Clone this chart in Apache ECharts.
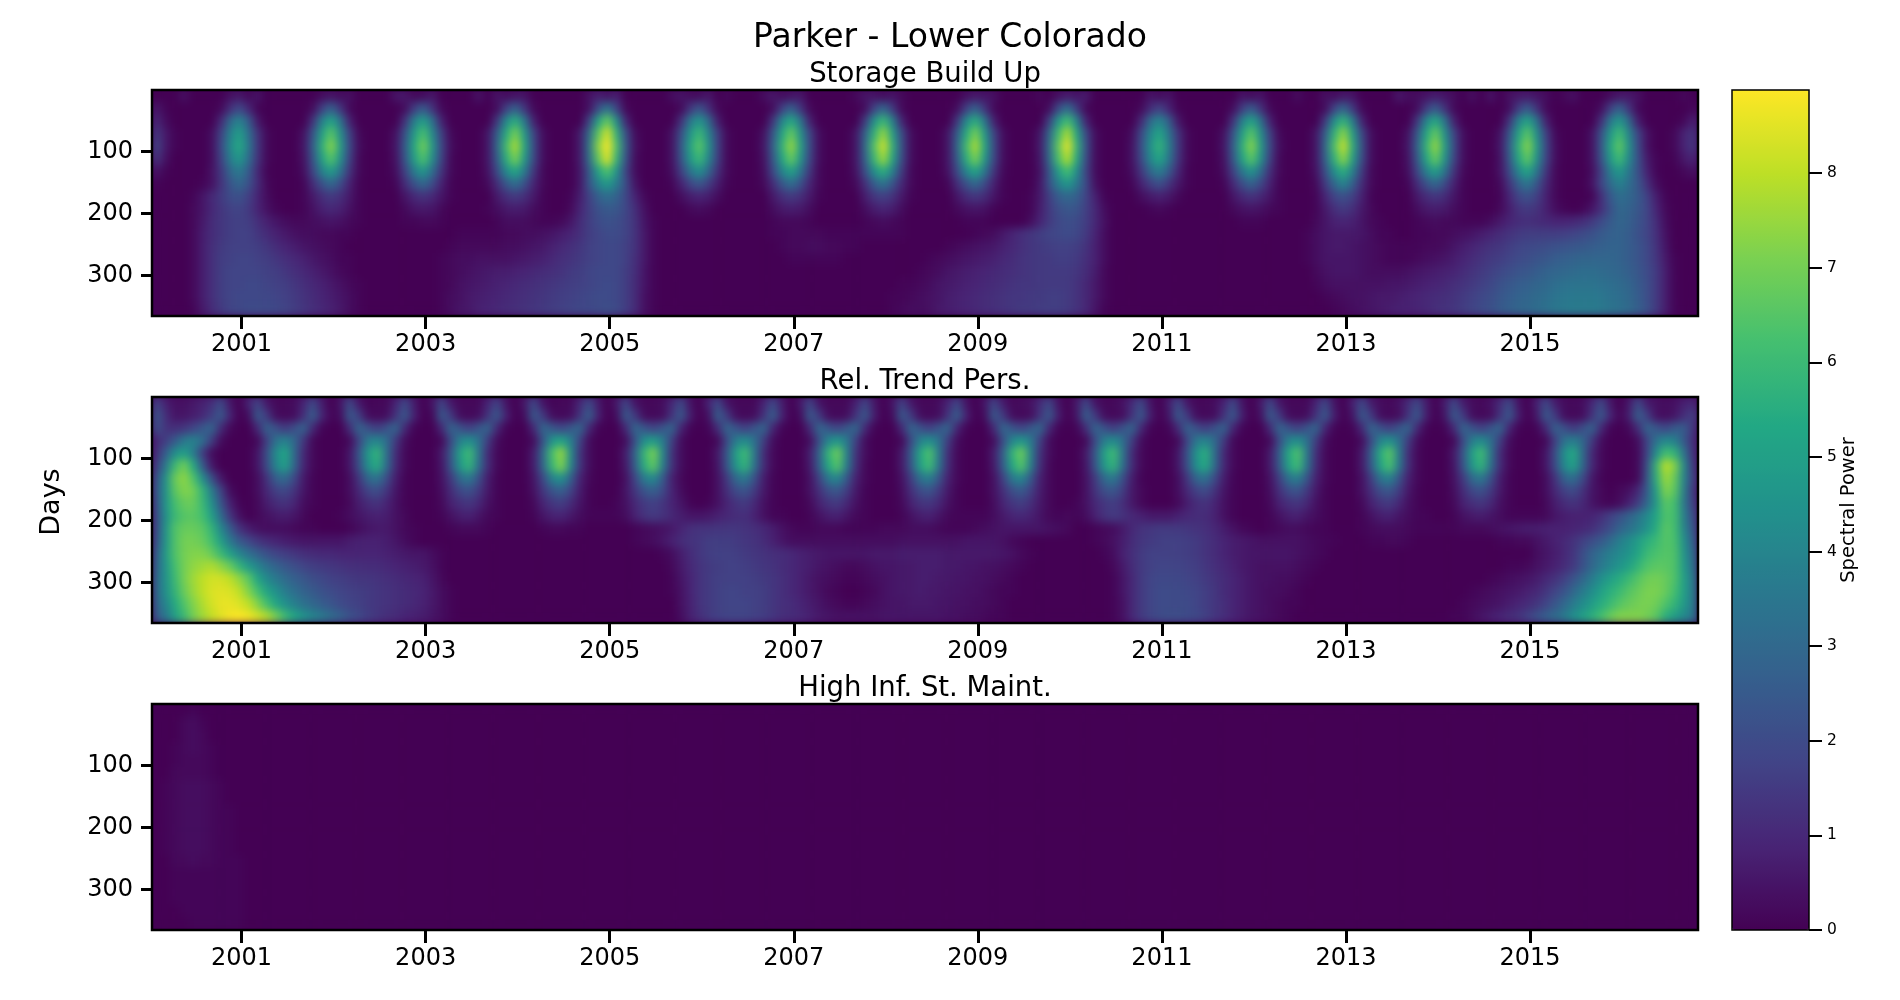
<!DOCTYPE html>
<html><head><meta charset="utf-8">
<style>html,body{margin:0;padding:0;background:#fff}#c{width:1900px;height:1000px}</style>
<script src="https://cdn.jsdelivr.net/npm/echarts@6/dist/echarts.min.js"></script>
</head><body><div id="c"></div>
<script>
// Spectral power, in tenths, one array per day row, 10 columns per year (last block 8).
const dayRows=[11,31,52,72,92,112,132,153,173,193,213,233,254,274,294,314,334,355];
const yearTicks=[2001,2003,2005,2007,2009,2011,2013,2015];
const dayTicks=[100,200,300];
const powerTicks=[0,1,2,3,4,5,6,7,8];

const s011=[0,0,0,4,0,0,0,0,4,6, 2,5,0,0,0,0,0,0,3,5, 3,4,0,0,0,0,5,6,2,3, 6,0,0,0,0,5,0,5,3,5, 5,0,0,0,0,0,0,4,8,5, 8,0,0,0,0,0,3,5,3,3, 6,0,2,0,0,0,3,6,3,5, 6,0,0,0,0,0,2,5,5,3, 5,2,0,0,0,0,0,0,4,6, 5,4,0,0,0,0,2,0,4,7, 5,7,0,0,0,0,0,0,5,3, 5,0,0,0,0,0,0,0,5,3, 5,0,0,0,3,0,0,4,3,6, 5,0,0,0,0,6,3,3,5,7, 5,3,0,4,0,5,0,4,6,7, 5,3,0,2,4,0,0,0,3,6, 6,4,0,0,0,0,2,0];
const s031=[6,1,0,0,0,0,0,2,12,20, 10,1,0,0,0,0,0,3,17,28, 14,2,0,0,0,0,0,3,16,26, 13,2,0,0,0,0,0,3,17,28, 14,2,0,0,0,0,0,4,21,35, 18,2,0,0,0,0,0,2,14,24, 12,2,0,0,0,0,0,3,17,28, 14,2,0,0,0,0,0,3,18,30, 15,2,0,0,0,0,0,3,17,28, 14,2,0,0,0,0,0,3,20,33, 16,2,0,0,0,0,0,2,11,18, 9,1,0,0,0,0,0,3,16,26, 13,2,0,0,0,0,0,3,18,30, 15,2,0,0,0,0,0,3,16,26, 13,2,0,0,0,0,0,3,16,26, 13,2,0,0,0,0,0,3,17,28, 14,2,0,0,0,0,0,2];
const s052=[10,3,0,0,0,0,0,10,30,40, 26,6,0,0,0,0,0,13,39,52, 34,8,0,0,0,0,0,13,38,50, 33,8,0,0,0,0,0,14,42,56, 36,8,0,0,0,0,0,17,51,68, 44,10,0,0,0,0,0,12,35,47, 31,7,0,0,0,0,0,14,41,54, 35,8,0,0,0,0,0,15,45,60, 39,9,0,0,0,0,0,14,42,56, 36,8,0,0,0,0,0,16,47,62, 40,9,0,0,0,0,0,10,31,41, 27,6,0,0,0,0,0,13,39,52, 34,8,0,0,0,0,0,15,44,58, 38,9,0,0,0,0,0,14,41,54, 35,8,0,0,0,0,0,13,39,52, 34,8,0,0,0,0,0,12,36,48, 31,7,0,0,0,0,2,8];
const s072=[15,6,1,0,0,0,3,17,38,50, 33,13,2,0,0,0,4,23,50,66, 44,17,2,0,0,0,4,22,48,63, 42,16,2,0,0,0,5,25,54,71, 48,18,3,0,0,0,6,30,65,84, 57,22,3,0,0,0,4,21,46,60, 40,16,2,0,0,0,4,24,52,68, 45,18,3,0,0,0,5,27,57,75, 50,20,3,0,0,0,5,25,54,71, 48,18,3,0,0,0,5,28,60,78, 53,20,3,0,0,0,3,19,40,53, 35,14,2,0,0,0,4,23,50,66, 44,17,2,0,0,0,5,26,57,74, 50,19,3,0,0,0,4,24,52,68, 45,18,3,0,0,0,4,23,50,66, 44,17,2,0,0,0,4,22,47,61, 41,18,4,0,0,2,9,13];
const s092=[18,6,1,0,0,0,3,19,41,54, 36,14,2,0,0,0,5,26,56,73, 49,19,3,0,0,0,5,25,53,70, 47,18,3,0,0,0,5,28,60,78, 53,20,3,0,0,0,6,33,72,92, 63,25,4,0,0,0,4,24,51,66, 45,17,2,0,0,0,5,27,57,75, 50,20,3,0,0,0,5,30,64,83, 56,22,3,0,0,0,5,28,60,78, 53,20,3,0,0,0,6,31,66,86, 58,23,3,0,0,0,4,21,44,58, 39,15,2,0,0,0,5,26,56,73, 49,19,3,0,0,0,5,29,63,82, 55,22,3,0,0,0,5,27,57,75, 50,20,3,0,0,0,5,26,56,73, 49,19,3,0,0,0,4,24,52,67, 45,20,4,0,0,2,9,14];
const s112=[14,4,0,0,0,0,3,17,37,48, 32,13,2,0,0,0,4,23,50,65, 44,17,2,0,0,0,4,23,49,64, 43,17,2,0,0,0,5,25,55,71, 48,19,3,0,0,0,6,31,66,85, 58,23,3,0,0,0,4,22,47,60, 41,16,2,0,0,0,4,24,52,68, 46,18,3,0,0,0,5,27,59,76, 52,20,3,0,0,0,5,25,55,71, 48,19,3,0,0,0,5,29,62,79, 54,21,3,0,0,0,4,19,41,53, 36,14,2,0,0,0,4,24,51,66, 45,17,2,0,0,0,5,27,57,74, 50,20,3,0,0,0,4,24,52,68, 46,18,3,0,0,0,4,24,52,67, 45,18,3,0,0,0,4,22,48,61, 42,22,6,1,0,1,6,9];
const s132=[5,1,0,0,0,0,4,14,29,37, 26,10,1,0,0,0,3,18,39,49, 34,13,2,0,0,0,3,17,37,47, 32,13,2,0,0,0,4,19,42,53, 37,14,2,0,0,0,5,24,51,64, 46,18,3,0,0,0,3,16,34,44, 30,12,2,0,0,0,3,19,40,51, 35,14,2,0,0,0,4,21,44,56, 39,15,2,0,0,0,4,19,41,52, 36,14,2,0,0,0,4,23,49,62, 44,18,3,0,0,0,3,14,30,38, 26,10,1,0,0,0,3,17,36,46, 32,12,2,0,0,0,4,21,44,56, 39,15,2,0,0,0,3,18,39,50, 35,13,2,0,0,0,4,19,41,52, 36,14,2,0,0,0,3,17,38,48, 36,22,8,1,0,0,2,4];
const s153=[1,0,0,0,0,1,4,13,23,30, 22,11,2,0,0,0,1,11,22,30, 20,8,1,0,0,0,1,11,22,30, 20,8,1,0,0,0,2,11,24,32, 22,9,2,0,0,0,5,23,39,48, 37,21,5,0,0,0,1,8,18,24, 16,7,1,0,0,0,2,11,24,32, 22,9,2,0,0,0,2,12,26,34, 23,10,2,0,0,0,1,11,22,30, 20,8,1,0,0,0,5,22,38,47, 36,20,4,0,0,0,1,8,16,22, 14,6,1,0,0,0,1,10,21,28, 19,8,1,0,0,0,2,15,30,40, 27,11,2,0,0,0,1,11,22,30, 20,8,1,0,0,0,2,13,27,35, 24,10,2,0,0,0,4,18,31,39, 32,24,12,3,0,0,0,0];
const s173=[0,0,0,0,1,5,10,15,20,22, 17,9,3,0,0,0,1,6,12,15, 12,6,1,0,0,0,0,5,10,13, 10,5,1,0,0,0,0,6,12,15, 12,6,1,0,0,1,7,17,27,32, 28,19,9,2,0,0,0,3,7,9, 7,3,0,0,0,0,0,6,12,15, 12,6,1,0,0,0,0,7,14,17, 13,6,1,0,0,0,0,5,11,14, 11,5,1,0,0,1,6,16,26,30, 27,18,8,1,0,0,0,3,6,8, 6,2,0,0,0,0,0,5,10,13, 10,5,1,0,0,0,1,9,18,22, 17,8,1,0,0,0,0,6,11,14, 11,5,1,0,0,0,1,9,18,22, 17,8,2,0,0,0,1,12,25,32, 30,25,17,7,1,0,0,0];
const s193=[0,0,0,0,2,5,10,14,17,18, 15,9,4,1,0,0,1,4,8,10, 8,4,1,0,0,0,0,2,5,6, 5,2,0,0,0,0,1,3,6,7, 6,3,1,0,0,2,9,16,22,25, 24,19,12,4,0,0,0,0,2,3, 2,0,0,0,0,0,0,3,6,7, 6,3,0,0,0,0,0,3,7,9, 7,3,0,0,0,0,0,2,4,5, 4,1,0,0,0,1,7,15,21,24, 23,17,10,3,0,0,0,0,1,2, 1,0,0,0,0,0,0,2,4,5, 4,2,1,0,0,0,1,6,12,15, 12,6,2,0,0,0,0,3,6,7, 6,3,1,0,0,0,2,7,13,15, 13,8,3,1,0,1,5,12,22,30, 28,24,18,9,2,0,0,0];
const s213=[0,0,0,0,2,6,11,14,16,17, 16,12,8,5,3,2,2,3,4,5, 4,2,1,0,0,0,0,1,1,2, 2,1,0,0,0,0,0,1,3,3, 3,2,1,1,2,5,11,16,20,22, 21,18,13,5,1,0,0,0,0,0, 0,0,0,0,0,0,0,1,2,2, 2,1,0,0,0,0,0,1,2,3, 2,1,0,0,0,0,0,0,1,1, 1,0,0,0,0,3,9,15,19,21, 20,16,10,4,0,0,0,0,0,0, 0,0,0,0,0,0,0,0,1,1, 1,0,0,0,0,0,2,5,8,9, 8,5,2,1,0,0,0,1,2,3, 2,2,1,1,1,3,6,9,11,12, 11,10,9,9,10,12,15,20,25,29, 27,23,18,11,3,0,0,0];
const s233=[0,0,0,0,2,7,11,14,16,17, 17,14,11,8,6,4,3,3,2,2, 1,1,0,0,0,0,0,0,0,0, 0,0,0,1,1,1,1,1,2,2, 3,3,4,5,7,9,12,16,18,20, 20,18,13,6,1,0,0,0,0,0, 0,0,0,0,0,0,0,1,1,2, 2,2,2,1,1,1,1,1,1,1, 1,1,0,0,0,0,0,0,0,1, 2,3,6,9,12,14,16,18,19,20, 19,15,9,3,0,0,0,0,0,0, 0,0,0,0,0,0,0,0,0,0, 0,0,0,0,0,1,3,5,6,6, 6,5,3,1,1,0,0,1,1,2, 2,3,4,5,7,9,11,13,15,16, 16,16,16,17,18,20,22,25,27,28, 26,22,18,12,4,0,0,0];
const s254=[0,0,0,0,2,7,12,15,17,17, 17,16,14,11,9,7,5,4,3,2, 1,0,0,0,0,0,0,0,0,0, 0,0,1,2,2,2,2,2,3,3, 4,5,6,8,10,12,14,17,18,19, 19,17,13,6,1,0,0,0,0,0, 0,0,0,0,0,0,0,0,1,2, 2,3,3,2,2,1,1,0,0,0, 0,0,0,0,0,0,1,2,3,4, 5,6,8,10,12,14,15,16,17,17, 16,13,8,3,0,0,0,0,0,0, 0,0,0,0,0,0,0,0,0,0, 0,0,0,0,0,1,3,5,6,6, 5,4,3,2,1,1,1,1,2,2, 3,5,7,9,11,13,14,16,18,19, 20,21,22,23,24,25,26,27,28,28, 26,23,19,13,5,0,0,0];
const s274=[0,0,0,0,2,7,12,16,17,18, 18,17,16,14,12,10,8,6,4,3, 1,1,0,0,0,0,0,0,0,0, 0,1,2,3,3,4,4,4,4,5, 6,7,8,10,12,13,15,17,18,19, 19,17,12,6,1,0,0,0,0,0, 0,0,0,0,0,0,0,0,0,1, 1,1,1,1,1,0,0,0,0,0, 0,0,0,0,1,2,3,4,5,6, 7,8,10,11,13,14,15,15,16,16, 15,12,8,3,0,0,0,0,0,0, 0,0,0,0,0,0,0,0,0,0, 0,0,0,0,0,1,3,5,5,5, 5,4,3,2,1,1,1,2,3,4, 5,7,9,11,13,15,16,18,20,21, 23,24,26,27,28,29,29,29,29,28, 26,23,19,14,6,1,0,0];
const s294=[0,0,0,0,2,7,12,16,18,18, 18,18,17,16,14,12,10,8,6,4, 2,1,0,0,0,0,0,0,0,0, 0,1,2,3,4,5,6,7,7,8, 9,10,11,12,13,15,16,18,19,19, 19,16,12,5,1,0,0,0,0,0, 0,0,0,0,0,0,0,0,0,0, 0,0,0,0,0,0,0,0,0,0, 0,0,0,1,2,3,5,6,7,8, 9,10,11,12,13,14,15,15,15,15, 14,11,7,2,0,0,0,0,0,0, 0,0,0,0,0,0,0,0,0,0, 0,0,0,0,0,0,2,4,5,5, 5,4,3,3,3,3,4,5,6,7, 8,9,11,13,15,17,19,21,23,24, 26,28,29,30,31,32,32,31,30,29, 27,24,20,15,7,1,0,0];
const s314=[0,0,0,0,2,7,12,16,18,18, 19,19,18,17,16,14,12,10,8,6, 4,2,1,0,0,0,0,0,0,0, 0,1,2,4,5,6,7,8,9,10, 11,12,13,14,15,16,17,18,19,20, 19,16,11,5,1,0,0,0,0,0, 0,0,0,0,0,0,0,0,0,0, 0,0,0,0,0,0,0,0,0,0, 0,1,1,2,3,5,6,7,8,9, 10,11,12,13,14,14,15,15,15,15, 13,10,6,2,0,0,0,0,0,0, 0,0,0,0,0,0,0,0,0,0, 0,0,0,0,0,0,1,3,4,4, 4,4,4,4,5,5,6,7,8,9, 10,12,13,15,17,19,22,24,26,27, 29,30,32,33,34,34,34,33,32,31, 29,25,21,15,7,1,0,0];
const s334=[0,0,0,0,2,7,12,16,18,19, 19,19,19,18,17,15,13,11,9,7, 5,3,1,0,0,0,0,0,0,0, 0,1,3,4,6,7,8,9,10,11, 12,13,14,15,16,17,18,19,20,20, 19,16,11,4,1,0,0,0,0,0, 0,0,0,0,0,0,0,0,0,0, 0,0,0,0,0,0,0,0,0,0, 1,1,2,3,4,5,7,8,9,10, 11,12,13,14,14,15,15,16,16,15, 13,10,6,2,0,0,0,0,0,0, 0,0,0,0,0,0,0,0,0,0, 0,0,0,0,0,0,0,1,2,3, 4,4,5,6,6,7,8,9,10,11, 12,13,15,17,19,21,24,26,28,29, 31,32,34,35,36,36,36,35,33,32, 30,26,21,15,7,1,0,0];
const s355=[0,0,0,0,1,6,11,15,18,19, 20,20,20,19,18,16,14,12,10,8, 6,3,1,0,0,0,0,0,0,0, 0,1,3,5,6,8,9,10,11,12, 13,14,15,16,17,18,19,19,20,21, 20,16,11,4,1,0,0,0,0,0, 0,0,0,0,0,0,0,0,0,0, 0,0,0,0,0,0,0,0,0,0, 1,2,3,3,4,6,7,8,9,10, 11,12,13,14,15,15,16,16,16,15, 13,10,5,1,0,0,0,0,0,0, 0,0,0,0,0,0,0,0,0,0, 0,0,0,0,0,0,0,0,1,2, 3,4,5,6,7,8,8,9,10,12, 13,14,16,18,20,22,25,27,29,30, 32,33,35,36,37,37,37,36,34,33, 31,27,22,15,7,1,0,0];

const t011=[18,8,4,4,6,8,12,20,6,0, 9,18,6,2,2,3,9,20,7,0, 5,20,6,1,2,2,9,20,7,0, 5,19,6,2,2,2,9,18,5,0, 6,20,5,1,2,2,10,20,7,0, 6,19,5,2,2,3,10,20,5,0, 9,20,5,2,2,2,9,20,7,0, 6,19,5,2,2,2,8,19,6,0, 5,18,6,2,2,3,9,19,5,0, 5,19,7,2,3,4,11,19,5,0, 6,20,5,2,2,4,11,20,5,0, 7,20,6,2,2,3,9,20,5,0, 6,20,6,2,2,2,9,20,5,0, 8,20,7,3,2,4,11,20,7,0, 7,20,7,3,2,4,11,20,5,0, 8,20,7,3,2,3,10,20,6,0, 6,20,7,4,3,4,8,10];
const t031=[24,12,5,5,7,10,16,25,9,0, 3,25,15,3,2,3,12,27,9,1, 3,25,16,3,2,3,13,25,8,0, 2,25,15,3,2,3,13,25,8,0, 3,25,15,3,2,3,13,27,8,0, 3,25,15,3,2,3,13,25,7,0, 4,27,15,3,2,3,13,27,8,0, 3,25,15,3,2,3,13,25,7,0, 3,25,15,3,2,3,13,27,8,0, 3,25,15,3,2,3,13,25,7,0, 5,27,15,3,2,3,13,25,7,0, 5,25,15,3,2,3,13,25,7,0, 4,25,15,3,2,3,13,25,7,0, 5,25,15,3,2,3,13,25,7,0, 5,25,15,3,2,3,13,25,7,0, 6,25,15,3,2,3,13,25,9,1, 7,27,16,4,3,5,12,16];
const t052=[22,13,12,14,18,24,29,11,2,0, 0,10,28,21,15,21,28,10,1,0, 0,11,29,21,16,22,29,10,1,0, 0,10,29,22,17,23,29,10,1,0, 0,10,30,24,19,24,30,10,1,0, 0,10,30,23,18,23,29,9,1,0, 1,11,29,22,17,23,29,9,1,0, 0,10,30,23,18,24,30,10,1,0, 0,10,29,22,17,23,29,9,1,0, 0,10,30,23,18,24,30,10,1,0, 1,11,29,22,16,22,29,10,1,0, 1,10,28,21,16,22,28,9,1,0, 0,10,29,22,17,23,29,9,1,0, 1,10,29,22,17,23,29,10,1,0, 1,10,29,22,17,23,29,9,1,0, 1,10,28,21,15,21,28,10,1,0, 2,11,29,23,19,25,26,13];
const t072=[10,16,25,36,39,32,16,3,0,0, 0,2,17,34,39,30,14,2,0,0, 0,2,18,37,41,32,15,3,0,0, 0,2,20,39,44,34,16,3,0,0, 0,3,23,46,52,39,18,3,0,0, 0,3,22,44,49,38,17,3,0,0, 0,2,20,38,43,33,16,3,0,0, 0,3,21,41,47,37,17,3,0,0, 0,2,20,39,44,34,16,3,0,0, 0,3,21,41,47,37,17,3,0,0, 0,2,20,38,43,33,16,3,0,0, 0,2,18,36,40,31,15,2,0,0, 0,2,20,39,44,34,16,3,0,0, 0,3,20,40,45,34,16,3,0,0, 0,2,20,38,43,33,16,3,0,0, 0,2,17,34,38,30,15,3,0,0, 0,3,18,34,42,39,25,11];
const t092=[12,26,44,50,38,16,3,0,0,0, 0,5,21,43,53,30,10,2,0,0, 0,5,23,47,58,33,11,2,0,0, 0,6,24,50,61,35,11,2,0,0, 0,7,30,62,75,44,14,3,0,0, 0,7,28,58,71,42,13,3,0,0, 0,6,24,50,61,35,11,2,0,0, 0,7,27,57,69,40,13,3,0,0, 0,6,25,52,64,37,12,2,0,0, 0,7,27,57,69,40,13,3,0,0, 0,6,24,50,61,35,11,2,0,0, 0,5,22,45,56,32,10,2,0,0, 0,6,25,52,64,37,12,2,0,0, 0,6,26,54,66,38,12,2,0,0, 0,6,24,50,61,35,11,2,0,0, 0,5,21,44,54,31,10,2,0,0, 0,2,18,44,62,58,34,12];
const t112=[16,36,60,70,54,26,6,0,0,0, 0,5,20,41,50,29,9,2,0,0, 0,5,21,44,55,32,10,2,0,0, 0,5,23,47,58,33,11,2,0,0, 0,7,29,59,72,42,14,3,0,0, 0,6,26,55,67,39,13,3,0,0, 0,5,23,47,58,33,11,2,0,0, 0,6,26,53,65,38,12,2,0,0, 0,6,24,50,61,35,11,2,0,0, 0,6,26,53,65,38,12,2,0,0, 0,5,23,47,58,33,11,2,0,0, 0,5,21,44,54,31,10,2,0,0, 0,6,24,50,61,35,11,2,0,0, 0,6,25,51,63,37,12,2,0,0, 0,5,23,47,58,33,11,2,0,0, 0,5,20,42,51,30,10,2,0,0, 0,2,22,58,80,72,42,14];
const t132=[22,44,68,74,64,44,22,6,0,0, 0,3,13,27,31,19,6,1,0,0, 0,3,14,30,34,21,7,1,0,0, 0,4,15,31,36,22,7,1,0,0, 0,5,19,39,45,28,9,2,0,0, 0,4,18,37,42,26,8,2,0,0, 0,4,15,31,36,22,7,1,0,0, 0,4,17,36,41,25,8,2,0,0, 0,4,16,33,38,24,8,2,0,0, 0,4,17,36,41,25,8,2,0,0, 0,4,15,31,36,22,7,1,0,0, 0,3,14,29,33,20,7,1,0,0, 0,4,16,33,38,24,8,2,0,0, 0,4,16,34,39,24,8,2,0,0, 0,4,15,31,36,22,7,1,0,0, 0,3,13,28,32,20,6,1,0,0, 0,2,24,56,76,68,40,16];
const t153=[24,45,66,72,70,58,38,18,3,0, 0,3,10,17,19,13,5,1,0,0, 0,3,10,18,21,14,5,1,0,0, 0,3,11,19,22,15,6,1,0,0, 0,4,14,23,27,18,7,1,0,0, 0,5,14,23,27,20,9,3,0,0, 0,4,12,20,23,15,6,1,0,0, 0,4,12,21,24,16,6,1,0,0, 0,3,12,20,23,15,6,1,0,0, 0,4,12,21,25,17,7,2,0,0, 0,4,13,21,24,16,6,2,0,0, 0,3,10,17,20,13,5,1,0,0, 0,3,12,20,23,15,6,1,0,0, 0,4,12,21,24,16,6,1,0,0, 0,3,11,19,22,15,6,1,0,0, 0,3,10,17,20,13,5,2,0,2, 4,10,26,50,72,66,38,14];
const t173=[22,46,62,68,68,60,44,24,8,1, 0,2,7,11,13,9,3,1,0,0, 0,2,7,11,13,9,4,1,0,0, 0,2,8,12,14,10,4,1,0,0, 0,2,9,14,16,11,5,1,0,0, 1,4,10,15,17,14,9,5,1,0, 1,4,9,13,15,10,4,1,0,0, 0,2,8,13,15,10,4,1,0,0, 0,2,8,13,14,10,4,1,0,0, 0,3,9,14,16,12,6,2,0,0, 1,4,10,14,16,12,6,2,0,0, 0,2,7,11,13,9,4,1,0,0, 0,2,8,12,14,10,4,1,0,0, 0,2,8,13,15,10,4,1,0,0, 0,2,8,12,14,10,4,1,0,0, 0,2,7,11,13,10,5,2,1,3, 8,16,30,48,66,62,36,16];
const t193=[20,44,60,65,66,62,50,32,14,4, 0,2,4,6,7,5,2,0,0,0, 1,3,5,7,8,7,4,2,0,0, 0,1,4,7,8,5,2,1,0,0, 0,1,5,8,9,6,3,1,1,1, 1,3,8,13,15,13,10,7,5,5, 6,8,10,11,12,8,4,1,1,0, 0,1,4,7,8,5,2,1,0,0, 0,1,4,7,8,5,2,1,1,1, 1,3,6,9,10,8,5,2,1,2, 1,3,8,13,15,13,10,8,6,6, 6,8,10,11,11,8,4,1,0,0, 0,1,4,7,8,5,3,1,0,0, 0,1,4,7,8,5,3,1,1,0, 0,1,4,6,7,5,3,1,1,1, 1,2,5,7,8,8,9,12,17,22, 28,34,42,52,64,62,38,20];
const t213=[20,46,64,68,68,66,58,42,26,13, 7,4,3,3,3,2,1,1,0,0, 0,1,3,5,6,6,4,2,1,0, 0,0,1,2,2,2,1,0,0,0, 0,0,1,2,2,1,1,0,0,0, 0,0,1,2,3,4,6,9,12,13, 13,14,14,14,13,12,10,7,4,2, 1,1,2,2,2,1,1,1,1,2, 2,2,3,3,3,2,1,1,1,2, 3,4,5,5,5,5,5,4,3,2, 0,0,1,2,3,6,10,13,14,15, 15,15,14,13,12,10,7,4,2,1, 0,1,2,3,3,2,1,1,0,0, 0,1,2,3,3,3,2,1,1,1, 1,1,2,2,2,3,4,5,6,7, 7,8,8,8,9,10,12,16,21,28, 33,38,45,55,66,62,40,23];
const t233=[22,46,64,70,70,68,62,50,36,25, 19,14,11,9,7,6,5,5,5,5, 5,7,8,8,8,7,5,3,1,0, 0,0,0,0,0,0,0,0,0,0, 0,0,0,0,0,0,0,0,0,0, 0,0,1,2,3,5,8,11,13,14, 16,16,16,15,14,13,11,8,5,3, 3,3,3,3,3,3,3,3,3,3, 3,4,4,4,4,4,4,4,5,5, 5,5,4,2,1,0,0,0,0,0, 0,0,1,2,4,7,11,14,15,16, 17,17,16,15,13,11,9,7,6,5, 4,4,4,4,4,3,2,1,1,0, 0,0,1,1,2,2,1,0,0,0, 0,0,0,0,0,0,1,1,2,2, 4,6,8,10,13,17,21,25,31,38, 43,49,56,60,65,63,44,26];
const t254=[26,48,64,70,72,72,68,60,50,40, 33,27,22,18,16,14,12,11,10,10, 9,9,9,9,9,8,7,6,5,5, 3,1,0,0,0,0,0,0,0,0, 0,0,0,0,0,0,0,0,0,0, 0,0,0,0,0,1,3,7,11,14, 16,17,17,16,15,14,13,12,11,10, 8,7,6,5,5,5,5,5,6,6, 6,7,7,7,7,7,6,6,6,6, 6,6,5,4,2,1,0,0,0,0, 0,0,0,1,3,8,12,15,17,17, 17,17,16,15,13,11,9,7,6,5, 5,5,5,5,4,3,2,1,0,0, 0,0,0,0,0,0,0,0,0,0, 0,0,0,0,0,0,0,0,0,0, 3,5,7,10,14,21,28,33,38,42, 46,52,60,63,65,64,46,30];
const t274=[28,46,62,70,74,76,78,74,68,58, 48,40,33,28,24,21,18,16,15,14, 13,12,12,11,11,10,9,8,7,6, 4,1,0,0,0,0,0,0,0,0, 0,0,0,0,0,0,0,0,0,0, 0,0,0,0,0,0,2,6,10,13, 15,16,17,17,16,15,14,13,11,10, 8,7,5,4,3,2,2,3,4,5, 5,6,6,7,7,7,6,6,5,5, 4,4,3,2,1,0,0,0,0,0, 0,0,0,0,2,6,11,15,17,18, 18,18,17,16,14,12,10,8,6,5, 4,4,4,4,3,2,1,0,0,0, 0,0,0,0,0,0,0,0,0,0, 0,0,0,0,0,0,0,1,1,2, 4,6,8,11,15,22,30,36,41,46, 51,58,64,66,66,64,48,32];
const t294=[30,45,60,70,76,80,83,83,80,74, 66,52,42,36,31,27,24,21,19,17, 16,15,14,14,13,12,11,10,9,8, 5,2,0,0,0,0,0,0,0,0, 0,0,0,0,0,0,0,0,0,0, 0,0,0,0,0,0,1,5,9,13, 15,17,17,17,17,16,15,14,12,10, 8,6,4,3,2,1,1,2,3,4, 5,6,6,7,7,6,6,5,5,4, 4,3,2,1,0,0,0,0,0,0, 0,0,0,0,1,5,10,15,18,19, 19,19,18,17,15,13,11,9,7,5, 4,4,3,3,2,1,0,0,0,0, 0,0,0,0,0,0,0,0,0,0, 0,0,0,0,0,1,2,3,4,5, 7,10,13,17,23,30,37,44,50,55, 60,65,69,70,68,64,50,35];
const t314=[30,44,58,68,75,80,84,85,84,80, 72,62,52,44,37,32,28,25,22,20, 18,17,16,15,14,13,12,11,10,9, 6,3,1,0,0,0,0,0,0,0, 0,0,0,0,0,0,0,0,0,0, 0,0,0,0,0,0,1,4,9,13, 15,17,18,18,17,17,16,14,12,10, 8,6,4,2,1,0,0,1,2,4, 5,6,6,7,6,6,5,5,4,4, 3,2,1,1,0,0,0,0,0,0, 0,0,0,0,1,5,10,15,18,20, 20,20,19,18,16,14,11,9,7,5, 4,3,3,2,1,0,0,0,0,0, 0,0,0,0,0,0,0,0,0,0, 0,0,0,1,2,3,4,5,6,8, 10,14,18,23,30,37,43,50,56,60, 65,68,71,71,68,62,50,36];
const t334=[28,40,54,64,72,78,83,86,86,84, 80,72,62,52,44,38,33,30,26,23, 20,18,17,15,14,13,12,11,10,8, 6,3,1,0,0,0,0,0,0,0, 0,0,0,0,0,0,0,0,0,0, 0,0,0,0,0,0,0,4,8,13, 15,17,18,18,18,17,16,14,12,11, 9,7,5,3,2,1,1,2,3,4, 5,5,6,6,6,5,5,4,4,3, 3,2,1,0,0,0,0,0,0,0, 0,0,0,0,1,4,10,15,18,20, 20,20,20,18,16,14,12,9,7,5, 4,3,2,1,1,0,0,0,0,0, 0,0,0,0,0,0,0,0,0,0, 0,0,1,2,3,4,5,7,9,11, 14,18,24,30,37,43,49,55,60,65, 68,70,71,69,64,58,48,36];
const t355=[25,35,50,60,70,76,81,85,88,89, 87,83,78,70,60,52,45,40,36,31, 27,22,19,16,14,12,11,9,8,7, 5,3,1,0,0,0,0,0,0,0, 0,0,0,0,0,0,0,0,0,0, 0,0,0,0,0,0,0,3,8,12, 15,17,18,18,18,17,16,14,12,11, 10,8,6,5,4,4,4,4,4,5, 5,5,5,5,5,5,4,4,3,3, 2,1,1,0,0,0,0,0,0,0, 0,0,0,0,1,4,10,15,18,20, 21,21,20,19,17,14,12,9,7,5, 4,3,2,1,0,0,0,0,0,0, 0,0,0,0,0,0,0,0,0,0, 0,1,1,3,5,7,9,11,13,17, 22,27,31,36,44,50,56,62,68,72, 72,72,70,66,56,50,42,34];

// third panel: only the first year shows any power, the rest reads as zero
const h011=[0,0,0,0,1,0,0,0,0,0];
const h031=[0,0,0,2,3,1,0,0,0,0];
const h052=[0,0,0,2,3,2,0,0,0,0];
const h072=[0,0,1,2,3,2,1,0,0,0];
const h092=[0,0,1,2,2,2,1,0,0,0];
const h112=[0,0,2,2,2,2,1,0,0,0];
const h132=[0,1,2,3,3,3,2,1,0,0];
const h153=[0,1,2,3,3,3,2,1,0,0];
const h173=[0,1,2,3,3,3,2,1,1,0];
const h193=[0,1,2,3,3,3,2,1,1,0];
const h213=[0,1,2,3,3,3,2,1,1,0];
const h233=[0,1,2,3,3,3,2,1,1,0];
const h254=[0,0,2,2,3,2,2,1,1,1];
const h274=[0,0,1,1,1,1,1,1,1,1];
const h294=[0,0,1,1,1,1,1,1,1,1];
const h314=[0,0,1,1,1,1,1,1,1,1];
const h334=[0,0,0,1,1,1,1,1,1,1];
const h355=[0,0,0,0,1,1,1,1,1,1];

const storageRows=[s011,s031,s052,s072,s092,s112,s132,s153,s173,s193,s213,s233,s254,s274,s294,s314,s334,s355];
const trendRows=[t011,t031,t052,t072,t092,t112,t132,t153,t173,t193,t213,t233,t254,t274,t294,t314,t334,t355];
const highRows=[h011,h031,h052,h072,h092,h112,h132,h153,h173,h193,h213,h233,h254,h274,h294,h314,h334,h355];
const panelTitles=['Storage Build Up','Rel. Trend Pers.','High Inf. St. Maint.'];
const panelRows=[storageRows,trendRows,highRows];
const viridis=['#440154','#482475','#414487','#355f8d','#2a788e','#21918c','#22a884','#44bf70','#7ad151','#bddf26','#fde725'];

const NCOL=168, X0=2000.0266, X1=2016.825, PMAX=8.88;
const colCats=[]; for(let i=0;i<NCOL;i++) colCats.push((X0+(i+.5)*(X1-X0)/NCOL).toFixed(2));
const L=152,W=1546,H=226,TOPS=[90,397,704];
const FONT='"DejaVu Sans"';
const xAxes=[],yAxes=[],grids=[],series=[],titles=[];
const extras=[];
titles.push({text:'Parker - Lower Colorado',left:950,top:38,textAlign:'center',textVerticalAlign:'middle',
  textStyle:{fontFamily:FONT,fontSize:33,fontWeight:'normal',color:'#000'},padding:0});
const tickStyle={fontFamily:FONT,fontSize:24,color:'#000'};
panelRows.forEach((rows,p)=>{
  grids.push({left:L,top:TOPS[p],width:W,height:H,show:true,backgroundColor:'transparent',borderColor:'#000',borderWidth:2.5,zlevel:2});
  titles.push({text:panelTitles[p],left:925,top:TOPS[p]-15,textAlign:'center',textVerticalAlign:'middle',
    textStyle:{fontFamily:FONT,fontSize:27.5,fontWeight:'normal',color:'#000'},padding:0});
  const ci=xAxes.length;
  xAxes.push({type:'category',gridIndex:p,data:colCats,show:false});
  xAxes.push({type:'value',gridIndex:p,position:'bottom',min:X0,max:X1,zlevel:2,splitLine:{show:false},
    axisLine:{show:false,onZero:false},
    axisTick:{show:true,inside:false,length:13,lineStyle:{color:'#000',width:3},customValues:yearTicks},
    axisLabel:{show:true,margin:17,formatter:v=>String(v),customValues:yearTicks,...tickStyle}});
  yAxes.push({type:'category',gridIndex:p,inverse:true,data:dayRows.map(String),show:false});
  yAxes.push({type:'value',gridIndex:p,position:'left',inverse:true,min:1,max:365,zlevel:2,splitLine:{show:false},
    axisLine:{show:false,onZero:false},
    axisTick:{show:true,inside:false,length:11,lineStyle:{color:'#000',width:3},customValues:dayTicks},
    axisLabel:{show:true,margin:19,customValues:dayTicks,...tickStyle}});
  const data=[];
  rows.forEach((r,j)=>{for(let i=0;i<NCOL;i++) data.push([i,j,(r[i]||0)/10]);});
  series.push({type:'heatmap',name:panelTitles[p],coordinateSystem:'cartesian2d',xAxisIndex:ci,yAxisIndex:ci,
    data:data,zlevel:1,progressive:0,silent:true,animation:false,emphasis:{disabled:true}});
  extras.push({type:'rect',shape:{x:L,y:TOPS[p],width:W,height:H},style:{fill:'#440154'},zlevel:0,silent:true});
});
extras.push({type:'text',x:52,y:502,rotation:Math.PI/2,zlevel:2,silent:true,
  style:{text:'Days',align:'center',verticalAlign:'middle',fontFamily:FONT,fontSize:27,fill:'#000'}});
extras.push({type:'text',x:1849,y:510,rotation:Math.PI/2,zlevel:2,silent:true,
  style:{text:'Spectral Power',align:'center',verticalAlign:'middle',fontFamily:FONT,fontSize:19.5,fill:'#000'}});
// colour bar: ticks and frame on a fourth grid, colours from the visualMap
grids.push({left:1732,top:90,width:77,height:840,show:true,backgroundColor:'transparent',borderColor:'#000',borderWidth:1.5,zlevel:2});
xAxes.push({type:'value',gridIndex:3,show:false,min:0,max:1});
yAxes.push({type:'value',gridIndex:3,position:'right',min:0,max:PMAX,zlevel:2,splitLine:{show:false},
  axisLine:{show:false,onZero:false},
  axisTick:{show:true,inside:false,length:13,lineStyle:{color:'#000',width:2},customValues:powerTicks},
  axisLabel:{show:true,margin:18,customValues:powerTicks,fontFamily:FONT,fontSize:15.5,color:'#000'}});

const chart=echarts.init(document.getElementById('c'),null,{renderer:'canvas',width:1900,height:1000});
chart.setOption({
  animation:false,backgroundColor:'#fff',
  title:titles,grid:grids,xAxis:xAxes,yAxis:yAxes,series:series,
  graphic:extras,tooltip:{show:false},
  visualMap:{type:'continuous',min:0,max:PMAX,seriesIndex:[0,1,2],left:1732,top:90,itemWidth:77,itemHeight:840,
    padding:0,calculable:false,realtime:false,hoverLink:false,text:['',''],showLabel:false,inRange:{color:viridis},
    textStyle:{fontSize:1,color:'transparent'},orient:'vertical',zlevel:0}
});
// soften the cell edges of the heat layer only, clipped to the panels
function soften(){
  const cv=document.querySelector('#c canvas[data-zr-dom-id="zr_1"]');
  if(!cv) return;
  cv.style.filter='blur(4px)';
  const d=TOPS.map(t=>`M${L} ${t}H${L+W}V${t+H}H${L}Z`).join('');
  cv.style.clipPath=`path("${d}")`;
}
soften(); chart.on('finished',soften); setTimeout(soften,50);
</script></body></html>
